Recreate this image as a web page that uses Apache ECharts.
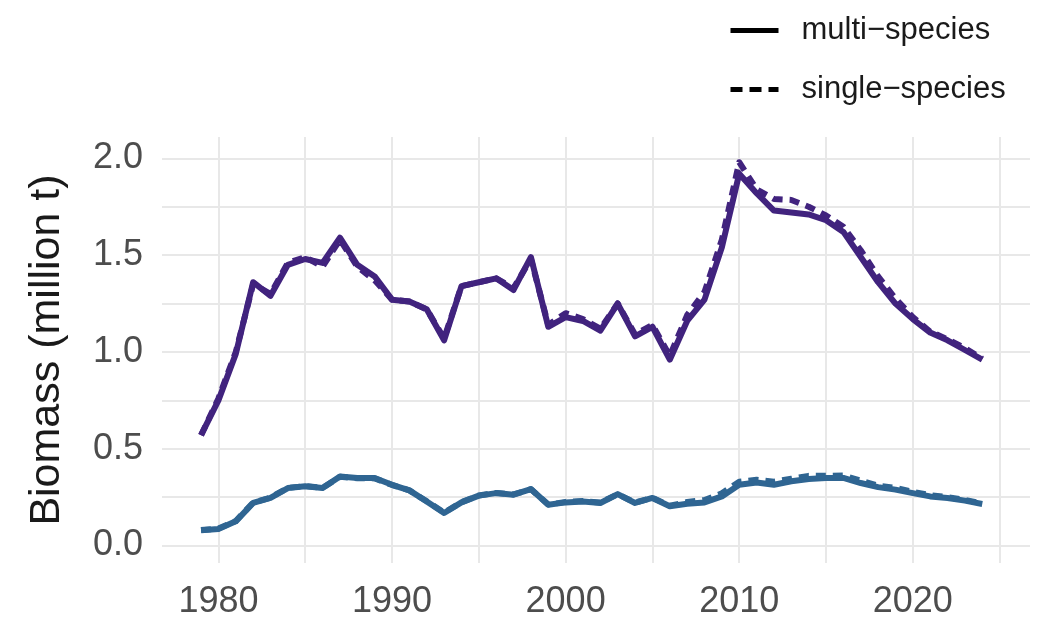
<!DOCTYPE html>
<html>
<head>
<meta charset="utf-8">
<script src="https://cdn.jsdelivr.net/npm/echarts@6/dist/echarts.min.js"></script>
<style>
  html, body { margin: 0; padding: 0; background: #fff; }
  #biomassChart { width: 1041px; height: 620px; }
</style>
</head>
<body>
<div id="biomassChart"></div>
<script>
  const years = [];
  for (let y = 1979; y <= 2024; y++) years.push(y);

  // purple stock
  const multiPurple = [0.57, 0.75, 0.99, 1.36, 1.29, 1.45, 1.48, 1.46, 1.59, 1.45,
    1.39, 1.27, 1.26, 1.22, 1.06, 1.34, 1.36, 1.38, 1.32, 1.49,
    1.13, 1.18, 1.16, 1.11, 1.25, 1.08, 1.13, 0.96, 1.16, 1.27,
    1.54, 1.92, 1.82, 1.73, 1.72, 1.71, 1.68, 1.62, 1.49, 1.36,
    1.25, 1.17, 1.10, 1.06, 1.01, 0.96];
  const singlePurple = [0.57, 0.76, 1.00, 1.35, 1.30, 1.46, 1.49, 1.44, 1.58, 1.44,
    1.37, 1.27, 1.26, 1.22, 1.07, 1.34, 1.36, 1.38, 1.33, 1.48,
    1.14, 1.20, 1.17, 1.12, 1.25, 1.09, 1.14, 0.98, 1.19, 1.31,
    1.58, 1.98, 1.84, 1.79, 1.785, 1.75, 1.705, 1.646, 1.525, 1.39,
    1.276, 1.18, 1.105, 1.065, 1.02, 0.965];

  // blue stock
  const multiBlue = [0.079, 0.086, 0.125, 0.22, 0.246, 0.297, 0.306, 0.297, 0.357, 0.349,
    0.349, 0.314, 0.285, 0.228, 0.168, 0.223, 0.258, 0.271, 0.263, 0.292,
    0.211, 0.223, 0.228, 0.22, 0.266, 0.22, 0.246, 0.203, 0.216, 0.223,
    0.254, 0.314, 0.326, 0.314, 0.332, 0.344, 0.349, 0.349, 0.323, 0.302,
    0.289, 0.271, 0.254, 0.246, 0.232, 0.215];
  const singleBlue = [0.08, 0.088, 0.127, 0.222, 0.248, 0.298, 0.307, 0.298, 0.355, 0.348,
    0.347, 0.313, 0.285, 0.229, 0.17, 0.224, 0.259, 0.272, 0.264, 0.291,
    0.212, 0.225, 0.23, 0.222, 0.265, 0.222, 0.247, 0.206, 0.225, 0.235,
    0.27, 0.33, 0.34, 0.33, 0.345, 0.36, 0.36, 0.362, 0.335, 0.31,
    0.298, 0.278, 0.26, 0.25, 0.236, 0.218];

  const xGrid = [1980, 1985, 1990, 1995, 2000, 2005, 2010, 2015, 2020, 2025];
  const xLabels = [1980, 1990, 2000, 2010, 2020];
  const yGrid = [0, 0.25, 0.5, 0.75, 1, 1.25, 1.5, 1.75, 2];
  const yLabels = [0, 0.5, 1, 1.5, 2];

  const legendNames = ['multi\u2212species', 'single\u2212species'];

  const PURPLE = '#41237e';
  const BLUE = '#2f6592';
  const FONT = 'Liberation Sans';

  function pairs(vals) {
    return vals.map((v, i) => [years[i], v]);
  }

  function lineSeries(name, vals, color, dashed) {
    return {
      name: name,
      type: 'line',
      data: pairs(vals),
      symbol: 'none',
      silent: true,
      lineStyle: {
        color: color,
        width: 6,
        type: dashed ? [10, 7] : 'solid',
        cap: 'butt',
        join: 'round',
      },
      z: dashed ? 3 : 2,
    };
  }

  const myChart = echarts.init(document.getElementById('biomassChart'));

  const option = {
    animation: false,
    backgroundColor: '#fff',
    textStyle: { fontFamily: FONT },
    legend: {
      data: [
        { name: legendNames[0], lineStyle: { width: 5, type: 'solid', color: '#000' } },
        { name: legendNames[1], lineStyle: { width: 5, type: [12, 7], color: '#000' } },
      ],
      orient: 'vertical',
      left: 723,
      top: 10,
      itemWidth: 48,
      itemHeight: 30,
      itemGap: 28,
      itemStyle: { opacity: 0 },
      lineStyle: { width: 5 },
      textStyle: { fontSize: 31, color: '#1a1a1a', fontFamily: FONT, padding: [0, 0, 0, 18] },
    },
    grid: {
      left: 162,
      right: 11,
      top: 137,
      bottom: 57,
      containLabel: false,
    },
    xAxis: {
      type: 'value',
      min: 1976.75,
      max: 2026.75,
      axisLine: { show: false },
      axisTick: { show: false, customValues: xGrid },
      axisLabel: {
        customValues: xLabels,
        fontSize: 36,
        color: '#4d4d4d',
        margin: 21,
        formatter: (v) => String(v),
      },
      splitLine: { show: true, lineStyle: { color: '#e8e8e8', width: 2 } },
    },
    yAxis: {
      type: 'value',
      min: -0.09,
      max: 2.11,
      name: 'Biomass (million t)',
      nameLocation: 'middle',
      nameGap: 93,
      nameTextStyle: { fontSize: 43, color: '#1a1a1a', fontFamily: FONT },
      axisLine: { show: false },
      axisTick: { show: false, customValues: yGrid },
      axisLabel: {
        customValues: yLabels,
        fontSize: 36,
        color: '#4d4d4d',
        margin: 19,
        formatter: (v) => v.toFixed(1),
      },
      splitLine: { show: true, lineStyle: { color: '#e8e8e8', width: 2 } },
    },
    series: [
      lineSeries('ms-purple', multiPurple, PURPLE, false),
      lineSeries('ss-purple', singlePurple, PURPLE, true),
      lineSeries('ms-blue', multiBlue, BLUE, false),
      lineSeries('ss-blue', singleBlue, BLUE, true),
      // legend keys only
      { name: legendNames[0], type: 'line', data: [], symbol: 'none',
        lineStyle: { color: '#000', width: 5, type: 'solid' }, itemStyle: { color: '#000' } },
      { name: legendNames[1], type: 'line', data: [], symbol: 'none',
        lineStyle: { color: '#000', width: 5, type: [12, 7] }, itemStyle: { color: '#000' } },
    ],
  };

  myChart.setOption(option);

  window.onresize = function() {
    myChart.resize();
  };
</script>
</body>
</html>
